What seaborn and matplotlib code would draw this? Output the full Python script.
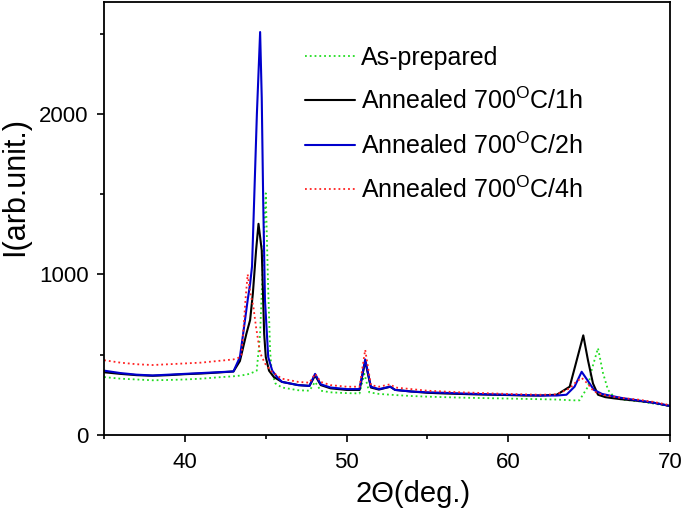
import matplotlib
matplotlib.use("Agg")
import matplotlib.pyplot as plt
import seaborn as sns
import pandas as pd
from matplotlib.ticker import MultipleLocator

sns.set_theme(style="ticks")
plt.rcParams['font.family'] = ['Liberation Sans', 'DejaVu Sans']
plt.rcParams['mathtext.fontset'] = 'custom'
plt.rcParams['mathtext.rm'] = 'Liberation Sans'
for k in ['text.color', 'axes.labelcolor', 'xtick.color', 'ytick.color']:
    plt.rcParams[k] = 'black'

labels = ["As-prepared",
          "Annealed 700$^{\\rm O}$C/1h",
          "Annealed 700$^{\\rm O}$C/2h",
          "Annealed 700$^{\\rm O}$C/4h"]

x_green = [35, 36, 37, 38, 39, 40, 41, 42, 43, 43.5, 44.0, 44.44, 44.65, 44.85, 45.0, 45.14, 45.27, 45.37,
           45.6, 46, 47, 47.7, 48.05, 48.4, 49, 50, 50.8, 51.1, 51.4, 52, 53, 54, 55, 56, 57, 58, 59, 60,
           61, 62, 63, 64, 64.4, 64.93, 65.16, 65.55, 65.86, 66.17, 66.6, 67, 68, 69, 70]
y_green = [360, 350, 345, 340, 342, 345, 350, 358, 365, 370, 380, 400, 630, 1150, 1505, 940, 520, 390,
           320, 295, 278, 275, 330, 275, 265, 260, 258, 380, 265, 255, 248, 242, 238, 235, 232, 230, 228, 226,
           224, 222, 220, 215, 215, 300, 405, 540, 385, 280, 230, 220, 210, 195, 178]

x_black = [35, 36, 37, 38, 39, 40, 41, 42, 43, 43.4, 43.8, 44.03, 44.2, 44.4, 44.55, 44.75, 44.9, 45.0,
           45.2, 45.5, 46, 47, 47.7, 48.05, 48.4, 49, 50, 50.8, 51.15, 51.5, 52, 52.7, 53, 54, 55, 56, 57,
           58, 59, 60, 61, 62, 63, 63.8, 64.13, 64.64, 64.93, 65.24, 65.55, 66, 66.5, 67, 68, 69, 70]
y_black = [390, 380, 372, 368, 372, 378, 382, 388, 395, 460, 630, 715, 880, 1150, 1315, 1150, 630, 485,
           400, 360, 330, 310, 305, 370, 310, 290, 280, 280, 460, 295, 282, 300, 280, 270, 262, 258, 255,
           252, 250, 248, 245, 245, 250, 300, 425, 620, 465, 320, 250, 235, 228, 222, 212, 200, 180]

x_blue = [35, 36, 37, 38, 39, 40, 41, 42, 43, 43.4, 43.6, 43.88, 44.03, 44.15, 44.28, 44.45, 44.65, 44.75,
          44.84, 44.95, 45.15, 45.4, 45.7, 46, 47, 47.7, 48.05, 48.4, 49, 50, 50.8, 51.15, 51.5, 52, 52.7,
          53, 54, 55, 56, 57, 58, 59, 60, 61, 62, 63, 63.6, 64.1, 64.54, 64.9, 65.3, 65.8, 66.5, 67, 68, 69, 70]
y_blue = [400, 385, 375, 370, 375, 380, 385, 390, 395, 485, 630, 840, 940, 1050, 1460, 2000, 2510, 2100,
          1460, 840, 485, 400, 360, 330, 310, 305, 380, 315, 295, 285, 285, 470, 300, 285, 300,
          280, 270, 265, 262, 258, 255, 252, 250, 248, 245, 245, 250, 300, 393, 340, 280, 255, 240, 230, 215, 200, 180]

x_red = [35, 36, 37, 38, 39, 40, 41, 42, 43, 43.3, 43.5, 43.6, 43.75, 43.88, 44.05, 44.23, 44.4, 44.65,
         44.95, 45.3, 45.7, 46, 47, 47.7, 48.05, 48.4, 49, 50, 50.8, 51.15, 51.5, 52, 52.7, 53, 54, 55, 56,
         57, 58, 59, 60, 61, 62, 63, 63.8, 64.2, 64.54, 64.9, 65.3, 65.8, 66.5, 67, 68, 69, 70]
y_red = [465, 450, 440, 435, 440, 445, 450, 460, 470, 480, 500, 630, 850, 1000, 880, 800, 670, 510,
         445, 400, 370, 350, 330, 325, 380, 330, 310, 300, 300, 530, 310, 300, 315, 295, 285, 275, 270,
         265, 262, 258, 255, 252, 250, 252, 290, 330, 355, 320, 270, 250, 238, 230, 220, 205, 185]

series = [(x_green, y_green, '#22dd22', ':', 1.3),
          (x_black, y_black, 'black', '-', 1.5),
          (x_blue, y_blue, '#0000cc', '-', 1.5),
          (x_red, y_red, '#ff2020', ':', 1.3)]

fig = plt.figure(figsize=(6.85, 5.14), dpi=100)
ax = fig.add_axes([0.152, 0.154, 0.826, 0.843])

for (xs, ys, c, ls, lw), lab in zip(series, labels):
    df = pd.DataFrame({"x": xs, "y": ys})
    sns.lineplot(data=df, x="x", y="y", ax=ax, color=c, linestyle=ls, lw=lw, label=lab)

ax.set_xlim(35, 70)
ax.set_ylim(0, 2700)
ax.xaxis.set_major_locator(MultipleLocator(10))
ax.xaxis.set_minor_locator(MultipleLocator(5))
ax.yaxis.set_major_locator(MultipleLocator(1000))
ax.yaxis.set_minor_locator(MultipleLocator(500))
ax.tick_params(which='major', direction='out', length=5, width=1.2, labelsize=16, color='black')
ax.tick_params(axis='x', which='major', pad=7)
ax.tick_params(axis='y', which='major', pad=6)
ax.tick_params(which='minor', direction='out', length=3, width=1.2)
for s in ax.spines.values():
    s.set_linewidth(1.3)
    s.set_color('black')
ax.set_xlabel("2\u0398(deg.)", fontsize=21)
ax.set_ylabel("I(arb.unit.)", fontsize=22)
ax.xaxis.set_label_coords(0.546, -0.105)
ax.yaxis.set_label_coords(-0.131, 0.574)

leg = ax.legend(loc='upper left', bbox_to_anchor=(0.355, 0.898), frameon=False, fontsize=18,
                handlelength=2.0, labelspacing=0.72, handletextpad=0.25, borderpad=0, borderaxespad=0)

fig.savefig("out.png", dpi=100)
